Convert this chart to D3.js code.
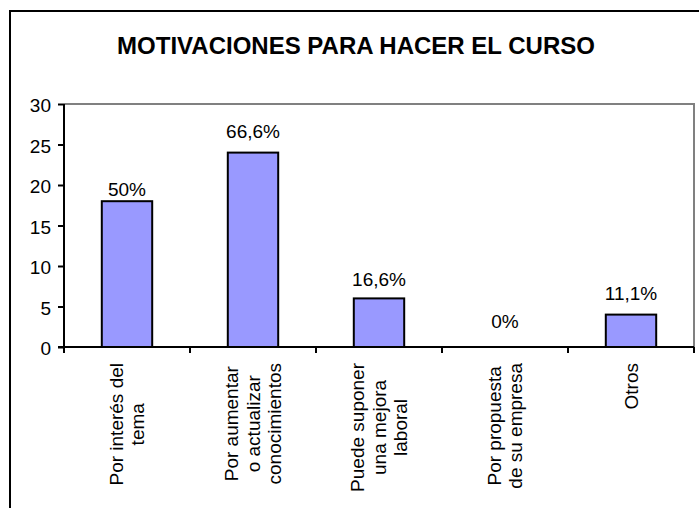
<!DOCTYPE html>
<html><head><meta charset="utf-8">
<script src="https://cdn.jsdelivr.net/npm/d3@7"></script>
<style>
html,body{margin:0;padding:0;background:#fff;overflow:hidden}
text{font-family:Arial,"Liberation Sans",sans-serif;fill:#000}
</style></head>
<body>
<svg id="chart" width="699" height="508"></svg>
<script>
const title = "MOTIVACIONES PARA HACER EL CURSO";
const categories = [
  ["Por interés del", "tema"],
  ["Por aumentar", "o actualizar", "conocimientos"],
  ["Puede suponer", "una mejora", "laboral"],
  ["Por propuesta", "de su empresa"],
  ["Otros"]
];
const values = [18, 24, 6, 0, 4];
const valueLabels = ["50%", "66,6%", "16,6%", "0%", "11,1%"];
const yTicks = [0, 5, 10, 15, 20, 25, 30];

const svg = d3.select("#chart");
const plot = {left: 64, right: 694, top: 104, bottom: 347};
const fs = 19;

// outer frame
svg.append("rect").attr("x", 10).attr("y", 11).attr("width", 720).attr("height", 540)
  .attr("fill", "#fff").attr("stroke", "#000").attr("stroke-width", 2);

// title
svg.append("text").attr("x", 356).attr("y", 54).attr("text-anchor", "middle")
  .style("font-size", "24px").style("font-weight", "bold").text(title);

const x = d3.scaleBand().domain(d3.range(values.length)).range([plot.left, plot.right]).padding(0);
const y = d3.scaleLinear().domain([0, 30]).range([plot.bottom, plot.top]);

// plot area border (gray top/right)
svg.append("path")
  .attr("d", `M${plot.left},${plot.top}H${plot.right}V${plot.bottom}`)
  .attr("fill", "none").attr("stroke", "#808080").attr("stroke-width", 2);

// bars
const bw = x.bandwidth() * 0.4;
svg.append("g").selectAll("rect").data(values).join("rect")
  .attr("x", (d, i) => x(i) + (x.bandwidth() - bw) / 2)
  .attr("y", d => y(d))
  .attr("width", bw)
  .attr("height", d => y(0) - y(d))
  .attr("fill", "#9999FF").attr("stroke", "#000").attr("stroke-width", 2)
  .style("display", d => d > 0 ? null : "none");

// value labels
const labelGap = [5, 15, 12, 19, 15];
svg.append("g").selectAll("text").data(values).join("text")
  .attr("x", (d, i) => x(i) + x.bandwidth() / 2)
  .attr("y", (d, i) => y(d) - labelGap[i])
  .attr("text-anchor", "middle").style("font-size", fs + "px")
  .text((d, i) => valueLabels[i]);

// y axis
const yAxis = svg.append("g").attr("transform", `translate(${plot.left},0)`)
  .call(d3.axisLeft(y).tickValues(yTicks).tickSize(6).tickPadding(7).tickFormat(d3.format("d")));
yAxis.select(".domain").attr("stroke", "#000").attr("stroke-width", 2).attr("d", `M0,${plot.top}V${plot.bottom}`);
yAxis.selectAll(".tick line").attr("stroke", "#000").attr("stroke-width", 2);
yAxis.selectAll(".tick text").style("font-size", fs + "px").attr("font-family", null).attr("dy", "0.42em");

// x axis
const xAxisG = svg.append("g").attr("transform", `translate(0,${plot.bottom})`);
xAxisG.append("line").attr("x1", plot.left - 6).attr("x2", plot.right).attr("stroke", "#000").attr("stroke-width", 2);
const boundaries = d3.range(values.length + 1).map(i => i < values.length ? x(i) : x(values.length - 1) + x.bandwidth());
xAxisG.selectAll("line.tk").data(boundaries).join("line").attr("class", "tk")
  .attr("x1", d => d).attr("x2", d => d).attr("y1", 0).attr("y2", 6)
  .attr("stroke", "#000").attr("stroke-width", 2);

// category labels (rotated)
const lh = 21.5;
categories.forEach((lines, i) => {
  const g = svg.append("g")
    .attr("transform", `translate(${x(i) + x.bandwidth() / 2},363) rotate(-90)`);
  const texts = g.selectAll("text").data(lines).join("text")
    .style("font-size", fs + "px").attr("text-anchor", "middle")
    .attr("y", (d, j) => (j - (lines.length - 1) / 2) * lh + 0.35 * fs)
    .text(d => d);
  let maxLen = 0;
  texts.each(function () { maxLen = Math.max(maxLen, this.getComputedTextLength()); });
  texts.attr("x", -maxLen / 2);
});
</script>
</body></html>
